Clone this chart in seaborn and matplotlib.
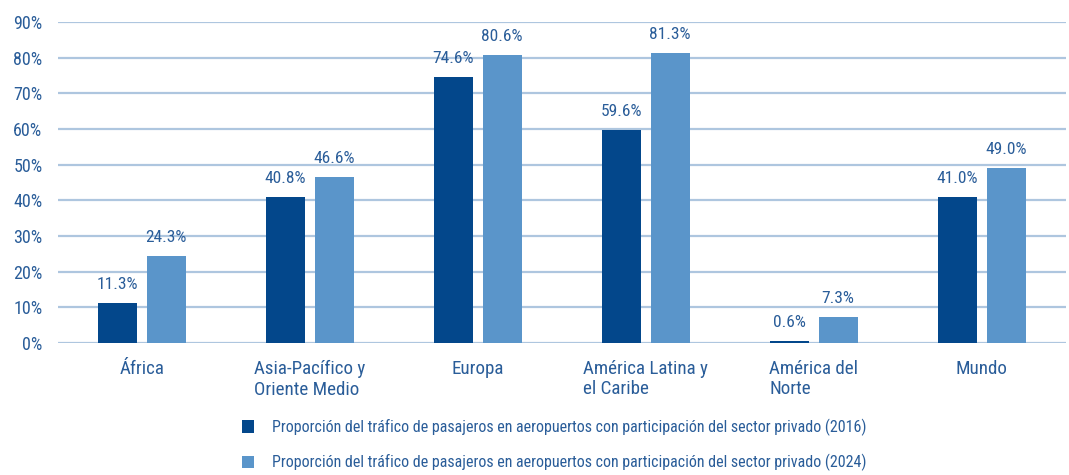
import pandas as pd
import numpy as np
import seaborn as sns
import matplotlib.pyplot as plt

regiones = ["África", "Asia-Pacífico y\nOriente Medio", "Europa",
            "América Latina y\nel Caribe", "América del\nNorte", "Mundo"]
valores_2016 = [11.3, 40.8, 74.6, 59.6, 0.6, 41.0]
valores_2024 = [24.3, 46.6, 80.6, 81.3, 7.3, 49.0]
serie_2016 = "Proporción del tráfico de pasajeros en aeropuertos con participación del sector privado (2016)"
serie_2024 = "Proporción del tráfico de pasajeros en aeropuertos con participación del sector privado (2024)"
yticks = [0, 10, 20, 30, 40, 50, 60, 70, 80, 90]

colores = ["#03478b", "#5a95ca"]
txt = "#2a5d99"

sns.set_theme(style="white")
plt.rcParams['font.family'] = ['Roboto Condensed', 'DejaVu Sans']

df = pd.DataFrame({
    "region": regiones * 2,
    "valor": valores_2016 + valores_2024,
    "serie": [serie_2016] * len(regiones) + [serie_2024] * len(regiones),
})

fig = plt.figure(figsize=(10.69, 4.75), dpi=100)
ax = fig.add_axes([0.054, 0.278, 0.943, 0.676])

sns.barplot(data=df, x="region", y="valor", hue="serie", palette=colores,
            width=0.58, gap=0.2, saturation=1, ax=ax, legend=True,
            edgecolor="none")

for c in ax.containers:
    ax.bar_label(c, labels=[f"{v:.1f}%" for v in c.datavalues], padding=8,
                 fontsize=12.5, color=txt)

ax.set_ylim(0, 90)
ax.set_yticks(yticks)
ax.set_yticklabels([f"{v}%" for v in yticks], fontsize=13, color=txt)
ax.yaxis.grid(True, color="#aec6df", linewidth=1.6)
ax.set_axisbelow(True)
ax.tick_params(axis="y", length=0, pad=11)
ax.tick_params(axis="x", length=0, pad=12)
for lbl in ax.get_xticklabels():
    lbl.set_fontsize(13.7)
    lbl.set_color(txt)
    lbl.set_multialignment("left")
    lbl.set_verticalalignment("top")
ax.set_xlabel("")
ax.set_ylabel("")
for s in ax.spines.values():
    s.set_visible(False)

leg = ax.legend(loc="upper left", bbox_to_anchor=(0.172, -0.2), frameon=False,
                fontsize=11.5, handlelength=0.75, handleheight=0.85,
                handletextpad=1.1, labelspacing=1.15, borderaxespad=0.3)
for t in leg.get_texts():
    t.set_color(txt)

fig.savefig("out.png", dpi=100)
